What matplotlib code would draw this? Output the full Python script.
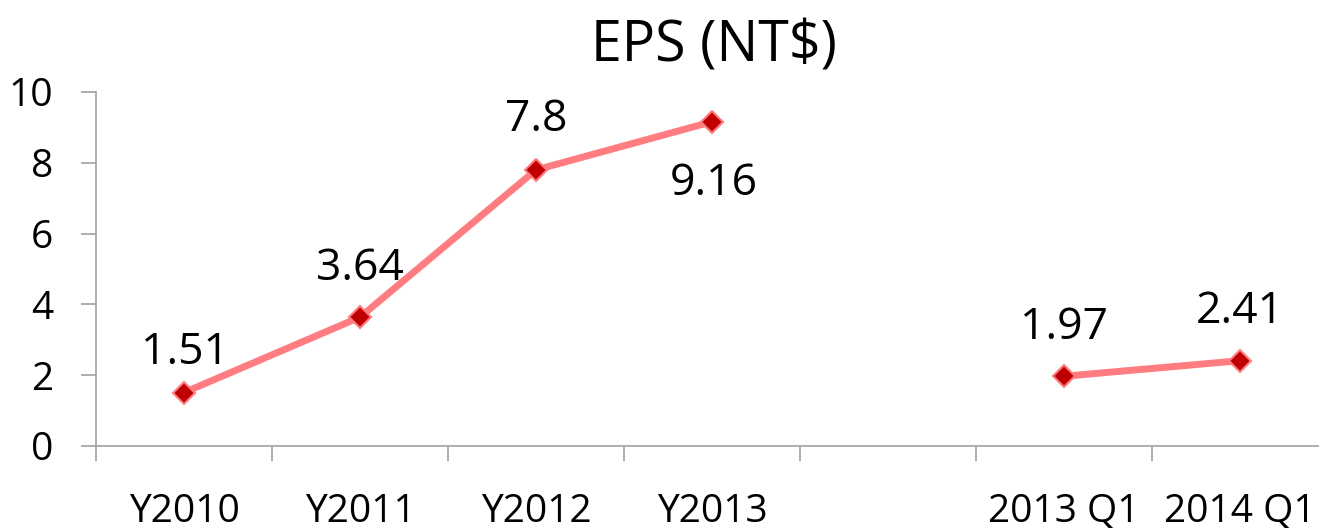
import numpy as np
import matplotlib.pyplot as plt

plt.rcParams['font.family'] = ['Open Sans', 'DejaVu Sans']

categories = ['Y2010', 'Y2011', 'Y2012', 'Y2013', '', '2013 Q1', '2014 Q1']
eps = [1.51, 3.64, 7.8, 9.16, np.nan, 1.97, 2.41]
labels = ['1.51', '3.64', '7.8', '9.16', '', '1.97', '2.41']
# label offset (points), above or below the marker
offsets = [(1, 29), (0, 35), (0, 36), (1, -45), None, (0, 35), (0, 35)]

fig = plt.figure(figsize=(13.19, 5.30), dpi=100)
ax = fig.add_axes([96/1319, 84/530, 1232/1319, 354/530])

x = np.arange(len(categories))
ax.plot(x, eps, color='#FF7C80', lw=5, marker='D', ms=11,
        mfc='#C00000', mec='#FF7C80', mew=1.5, solid_capstyle='round')

for xi, v, lab, off in zip(x, eps, labels, offsets):
    if off is None:
        continue
    ax.annotate(lab, (xi, v), xytext=off, textcoords='offset points',
                ha='center', va='center', fontsize=32)

ax.set_xlim(-0.5, len(categories) - 0.5)
ax.set_ylim(0, 10)
ax.set_yticks(np.arange(0, 11, 2))

ax.set_xticks(x)
ax.set_xticklabels(categories)
ax.set_xticks(np.arange(-0.5, len(categories), 1), minor=True)
ax.tick_params(axis='x', which='major', length=0, pad=34, labelsize=28)
ax.tick_params(axis='x', which='minor', length=11, width=1.2, color='#A0A0A0')
ax.tick_params(axis='y', length=11, width=1.2, color='#A0A0A0', pad=20, labelsize=28)

for s in ['top', 'right']:
    ax.spines[s].set_visible(False)
for s in ['left', 'bottom']:
    ax.spines[s].set_color('#A0A0A0')
    ax.spines[s].set_linewidth(1.2)

fig.text(0.541, 0.912, 'EPS (NT$)', ha='center', va='center', fontsize=40)

fig.savefig('out.png', dpi=100)
